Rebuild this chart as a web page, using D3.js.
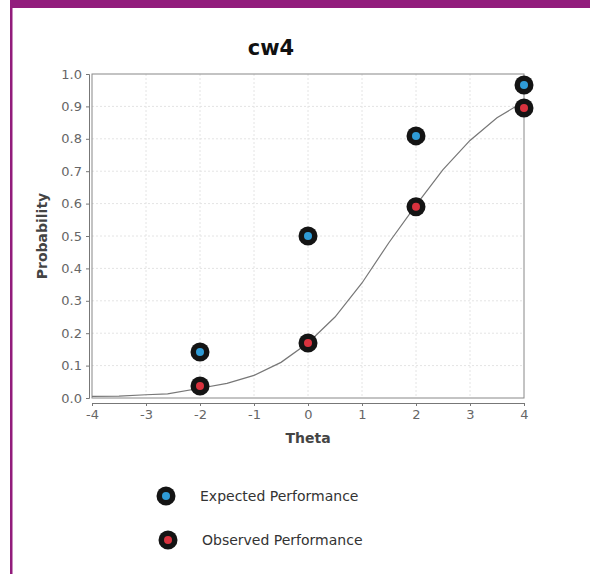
<!DOCTYPE html>
<meta charset="utf-8">
<style>
  body { margin: 0; background: #fff; }
  svg { display: block; font-family: "DejaVu Sans", sans-serif; }
</style>
<div id="chart"></div>
<script src="https://cdn.jsdelivr.net/npm/d3@7"></script>
<script>

var title = "cw4";
var thetaTicks = [-4, -3, -2, -1, 0, 1, 2, 3, 4];
var probTicks = [0, 0.1, 0.2, 0.3, 0.4, 0.5, 0.6, 0.7, 0.8, 0.9, 1.0];

// item characteristic curve
var curveTheta = [-4, -3.5, -3, -2.6, -2, -1.5, -1, -0.5, 0, 0.5, 1, 1.5, 2, 2.5, 3, 3.5, 3.9];
var curveProb  = [0.005, 0.006, 0.01, 0.013, 0.03, 0.045, 0.07, 0.11, 0.17, 0.25, 0.355, 0.48, 0.595, 0.705, 0.795, 0.865, 0.905];

var pointTheta = [-2, 0, 2, 4];
var expected = [0.142, 0.50, 0.809, 0.966];
var observed = [0.037, 0.17, 0.59, 0.895];

var W = 590, H = 574;
var box = {left: 92, right: 524, top: 74, bottom: 398};

var svg = d3.select("#chart").append("svg")
    .attr("width", W)
    .attr("height", H);

// purple frame
svg.append("rect").attr("x", 10).attr("y", 0).attr("width", W - 10).attr("height", 8).attr("fill", "#921d7c");
svg.append("rect").attr("x", 10).attr("y", 0).attr("width", 2.5).attr("height", H).attr("fill", "#921d7c");

var x = d3.scaleLinear().domain([-4, 4]).range([box.left, box.right]);
var y = d3.scaleLinear().domain([0, 1]).range([box.bottom, box.top]);

// grid
svg.append("g").selectAll("line").data(thetaTicks.slice(1, -1)).enter().append("line")
    .attr("x1", d => x(d)).attr("x2", d => x(d))
    .attr("y1", box.top).attr("y2", box.bottom)
    .attr("stroke", "#e4e4e4").attr("stroke-dasharray", "2,2");
svg.append("g").selectAll("line").data(probTicks.slice(1, -1)).enter().append("line")
    .attr("x1", box.left).attr("x2", box.right)
    .attr("y1", d => y(d)).attr("y2", d => y(d))
    .attr("stroke", "#e4e4e4").attr("stroke-dasharray", "2,2");

// plot outline
svg.append("rect")
    .attr("x", box.left).attr("y", box.top)
    .attr("width", box.right - box.left).attr("height", box.bottom - box.top)
    .attr("fill", "none").attr("stroke", "#888").attr("stroke-width", 1);

// axes (offset from the data area)
var yAxis = svg.append("g")
    .attr("transform", "translate(" + (box.left - 3) + ",0)")
    .call(d3.axisLeft(y).tickValues(probTicks).tickFormat(d3.format(".1f")).tickSize(3).tickPadding(4));
var xAxis = svg.append("g")
    .attr("transform", "translate(0," + (box.bottom + 5) + ")")
    .call(d3.axisBottom(x).tickValues(thetaTicks).tickFormat(d3.format("d")).tickSize(3).tickPadding(4));

[yAxis, xAxis].forEach(function(a) {
  a.select(".domain").attr("stroke", "#777");
  a.selectAll(".tick line").attr("stroke", "#777");
  a.selectAll("text").attr("fill", "#666").style("font-size", "13px")
    .style("font-family", "'DejaVu Sans', sans-serif");
});
xAxis.selectAll("text").text(function(d) { return d < 0 ? "-" + Math.abs(d) : d; });

// curve
var curve = curveTheta.map((t, i) => [t, curveProb[i]]);
svg.append("path")
    .datum(curve)
    .attr("fill", "none")
    .attr("stroke", "#777")
    .attr("stroke-width", 1.2)
    .attr("d", d3.line().x(d => x(d[0])).y(d => y(d[1])));

function marker(g, cx, cy, color) {
  g.append("circle").attr("cx", cx).attr("cy", cy).attr("r", 9.5).attr("fill", "#141414");
  g.append("circle").attr("cx", cx).attr("cy", cy).attr("r", 4).attr("fill", color);
}

var blue = "#2f9bd6", red = "#d9323e";
var pts = svg.append("g");
pointTheta.forEach(function(t, i) {
  marker(pts, x(t), y(expected[i]), blue);
  marker(pts, x(t), y(observed[i]), red);
});

// title and axis labels
svg.append("text").attr("x", 271).attr("y", 55).attr("text-anchor", "middle")
    .style("font-size", "21px").style("font-weight", "bold").attr("fill", "#111").text(title);
svg.append("text").attr("x", x(0)).attr("y", 443).attr("text-anchor", "middle")
    .style("font-size", "14px").style("font-weight", "bold").attr("fill", "#444").text("Theta");
svg.append("text").attr("transform", "translate(47," + y(0.5) + ") rotate(-90)").attr("text-anchor", "middle")
    .style("font-size", "14px").style("font-weight", "bold").attr("fill", "#444").text("Probability");

// legend
var legend = [["Expected Performance", blue, 166, 496, 200], ["Observed Performance", red, 168, 540, 202]];
legend.forEach(function(l) {
  marker(svg, l[2], l[3], l[1]);
  svg.append("text").attr("x", l[4]).attr("y", l[3] + 5)
      .style("font-size", "14px").attr("fill", "#333").text(l[0]);
});

</script>
